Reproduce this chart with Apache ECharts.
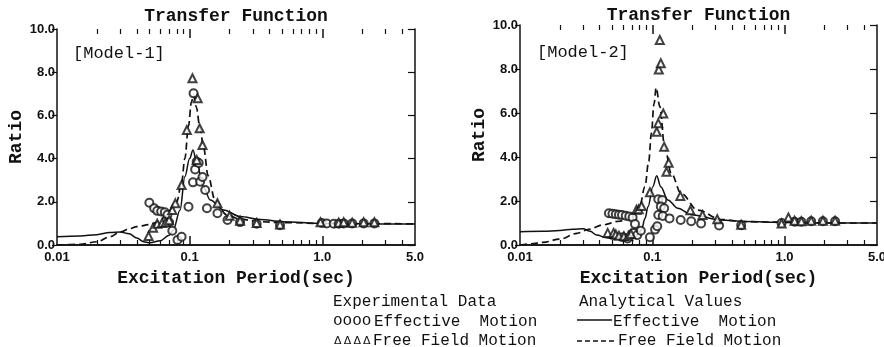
<!DOCTYPE html>
<html>
<head>
<meta charset="utf-8">
<style>
  html, body { margin: 0; padding: 0; background: #fff; }
  #chart { width: 884px; height: 347px; }
</style>
<script src="https://cdn.jsdelivr.net/npm/echarts@6/dist/echarts.min.js"></script>
</head>
<body>
<div id="chart"></div>
<script>
// Ticks and labels on the period axis
const xLabelValues = [0.01, 0.1, 1, 5]
const xLabelTexts = ['0.01', '0.1', '1.0', '5.0']
const xMinorTicks = [0.02, 0.03, 0.04, 0.05, 0.06, 0.07, 0.08, 0.09,
  0.2, 0.3, 0.4, 0.5, 0.6, 0.7, 0.8, 0.9, 2, 3, 4]
const xMajorTicks = [0.1, 1]

// Model-1: experimental data [period, ratio]
const m1EffExp = [[0.0497, 1.96], [0.054, 1.70], [0.057, 1.58], [0.061, 1.55], [0.065, 1.52],
  [0.068, 1.40], [0.070, 1.05], [0.074, 0.66], [0.081, 0.23], [0.087, 0.38], [0.098, 1.77],
  [0.106, 2.90], [0.110, 3.50], [0.113, 3.85], [0.107, 7.02], [0.117, 3.80], [0.120, 2.93],
  [0.125, 3.15], [0.131, 2.55], [0.135, 1.70], [0.162, 1.47], [0.193, 1.16], [0.24, 1.06],
  [0.32, 0.98], [0.48, 0.92], [0.99, 1.02], [1.08, 1.0], [1.22, 0.98], [1.33, 0.98],
  [1.45, 1.0], [1.68, 1.0], [2.05, 1.0], [2.47, 1.0]]
const m1FreeExp = [[0.049, 0.42], [0.053, 0.80], [0.057, 0.98], [0.062, 1.02], [0.066, 1.05],
  [0.070, 1.15], [0.074, 1.62], [0.078, 1.93], [0.087, 2.78], [0.0953, 5.32], [0.105, 7.72],
  [0.115, 6.79], [0.119, 5.40], [0.125, 4.63], [0.113, 3.94], [0.162, 1.93], [0.2, 1.35],
  [0.24, 1.12], [0.32, 1.02], [0.48, 0.95], [0.97, 1.05], [1.33, 1.03], [1.45, 1.05],
  [1.68, 1.03], [2.05, 1.05], [2.47, 1.05]]
// Model-1: analytical values
const m1EffAna = [[0.01, 0.38], [0.015, 0.42], [0.02, 0.48], [0.025, 0.58], [0.03, 0.6],
  [0.035, 0.52], [0.04, 0.32], [0.045, 0.15], [0.05, 0.1], [0.06, 0.2], [0.07, 0.45],
  [0.0753, 0.7], [0.0847, 1.62], [0.092, 3.16], [0.1, 4.0], [0.106, 4.4], [0.113, 3.8],
  [0.127, 2.7], [0.143, 2.08], [0.18, 1.62], [0.24, 1.32], [0.34, 1.18], [0.5, 1.08],
  [1, 1.0], [2, 0.98], [5, 0.97]]
const m1FreeAna = [[0.01, 0.0], [0.015, 0.03], [0.02, 0.15], [0.025, 0.38], [0.03, 0.6],
  [0.035, 0.75], [0.04, 0.85], [0.05, 0.95], [0.06, 1.1], [0.067, 1.45], [0.08, 2.0],
  [0.087, 2.9], [0.092, 4.0], [0.098, 5.5], [0.103, 6.6], [0.107, 6.95], [0.112, 6.4],
  [0.12, 5.4], [0.127, 4.55], [0.138, 3.2], [0.155, 2.1], [0.19, 1.4], [0.24, 1.2],
  [0.33, 1.08], [0.5, 1.04], [1, 1.0], [2, 0.99], [5, 0.98]]

// Model-2: experimental data
const m2EffExp = [[0.047, 1.44], [0.050, 1.42], [0.053, 1.40], [0.056, 1.38], [0.059, 1.36],
  [0.063, 1.33], [0.067, 1.30], [0.071, 1.25], [0.074, 0.95], [0.072, 0.55], [0.077, 0.45],
  [0.082, 0.65], [0.060, 0.35], [0.065, 0.30], [0.096, 0.35], [0.105, 0.70], [0.109, 0.85],
  [0.111, 2.08], [0.119, 2.05], [0.116, 1.75], [0.123, 1.67], [0.111, 1.36], [0.120, 1.32],
  [0.135, 1.21], [0.164, 1.14], [0.197, 1.08], [0.234, 0.98], [0.32, 0.89], [0.47, 0.90],
  [0.95, 1.0], [1.19, 1.06], [1.34, 1.06], [1.59, 1.08], [1.95, 1.08], [2.41, 1.08]]
const m2FreeExp = [[0.046, 0.55], [0.051, 0.55], [0.053, 0.48], [0.056, 0.42], [0.061, 0.40],
  [0.066, 0.42], [0.069, 0.50], [0.076, 1.60], [0.079, 1.62], [0.083, 1.77], [0.096, 2.40],
  [0.108, 5.15], [0.111, 5.53], [0.112, 7.98], [0.114, 9.32], [0.116, 8.26], [0.121, 5.98],
  [0.123, 4.47], [0.128, 3.33], [0.133, 3.74], [0.163, 2.23], [0.194, 1.58], [0.24, 1.36],
  [0.31, 1.17], [0.47, 0.92], [0.95, 0.98], [1.07, 1.25], [1.19, 1.10], [1.34, 1.08],
  [1.59, 1.10], [1.95, 1.10], [2.41, 1.10]]
// Model-2: analytical values
const m2EffAna = [[0.01, 0.6], [0.015, 0.62], [0.02, 0.66], [0.025, 0.72], [0.03, 0.74],
  [0.034, 0.62], [0.038, 0.45], [0.045, 0.33], [0.053, 0.26], [0.062, 0.26], [0.07, 0.3],
  [0.077, 0.45], [0.083, 0.7], [0.088, 1.2], [0.093, 1.75], [0.101, 2.65], [0.108, 3.15],
  [0.116, 2.65], [0.131, 2.05], [0.156, 1.67], [0.197, 1.38], [0.33, 1.14], [0.5, 1.07],
  [1, 1.03], [2, 1.0], [5, 1.0]]
const m2FreeAna = [[0.01, 0.0], [0.012, 0.05], [0.015, 0.12], [0.02, 0.27], [0.027, 0.53],
  [0.033, 0.71], [0.042, 0.91], [0.056, 1.08], [0.07, 1.3], [0.08, 1.7], [0.088, 2.65],
  [0.094, 3.8], [0.0985, 5.1], [0.103, 6.4], [0.107, 7.15], [0.114, 6.3], [0.124, 4.47],
  [0.139, 3.26], [0.165, 2.35], [0.22, 1.59], [0.33, 1.16], [0.5, 1.06], [1, 1.03],
  [2, 1.0], [5, 1.0]]

const INK = '#111'
const MONO = '"Liberation Mono", "DejaVu Sans Mono", monospace'
const SANS = '"Liberation Sans", Arial, sans-serif'

const fmtX = (v) => {
  const i = xLabelValues.findIndex(t => Math.abs(t - v) / t < 1e-6)
  return i >= 0 ? xLabelTexts[i] : ''
}

const panels = [
  { grid: { left: 57, top: 29, width: 358, height: 216 }, titleGap: 4, ratioGap: 31 },
  { grid: { left: 520, top: 25, width: 357, height: 220 }, titleGap: 1, ratioGap: 28 }
]
const X_PER_GRID = 6

const grids = []
const xAxes = []
const yAxes = []
panels.forEach((p, g) => {
  grids.push(Object.assign({ show: false, containLabel: false, outerBoundsMode: 'none' }, p.grid))
  const base = { type: 'log', logBase: 10, gridIndex: g, min: 0.01, max: 5, splitLine: { show: false } }
  xAxes.push(Object.assign({}, base, {
    position: 'bottom',
    axisLine: { lineStyle: { color: INK, width: 1.5 } },
    axisTick: { show: false },
    axisLabel: { customValues: xLabelValues, formatter: fmtX, color: INK, fontFamily: SANS,
      fontWeight: 'bold', fontSize: 13, margin: 6 },
    name: 'Excitation Period(sec)', nameLocation: 'middle', nameGap: 24,
    nameTextStyle: { color: INK, fontFamily: MONO, fontWeight: 'bold', fontSize: 18 }
  }))
  xAxes.push(Object.assign({}, base, {
    position: 'top',
    axisLine: { lineStyle: { color: INK, width: 1.5 } },
    axisTick: { show: false },
    axisLabel: { show: false },
    name: 'Transfer Function', nameLocation: 'middle', nameGap: p.titleGap,
    nameTextStyle: { color: INK, fontFamily: MONO, fontWeight: 'bold', fontSize: 18 }
  }))
  // tick-only axes, all anchored on the top edge; the bottom copies are shifted down
  // by the plot height and point their ticks upwards into the plot
  ;[[xMajorTicks, 9, 1.5], [xMinorTicks, 5, 1.2]].forEach(([vals, len, w]) => {
    ;[false, true].forEach(atBottom => {
      xAxes.push(Object.assign({}, base, {
        position: 'top',
        offset: atBottom ? -p.grid.height : 0,
        axisLine: { show: false },
        axisTick: { inside: !atBottom, length: len, customValues: vals, lineStyle: { color: INK, width: w } },
        axisLabel: { show: false }
      }))
    })
  })
  yAxes.push({
    type: 'value', gridIndex: g, min: 0, max: 10, interval: 2, position: 'left',
    splitLine: { show: false },
    axisLine: { show: true, lineStyle: { color: INK, width: 1.5 } },
    axisTick: { show: true, inside: false, length: 5, lineStyle: { color: INK, width: 1.2 } },
    axisLabel: { formatter: v => v.toFixed(1), color: INK, fontFamily: SANS, fontWeight: 'bold',
      fontSize: 13, margin: 2 },
    name: 'Ratio', nameLocation: 'middle', nameGap: p.ratioGap, nameRotate: 90,
    nameTextStyle: { color: INK, fontFamily: MONO, fontWeight: 'bold', fontSize: 18 }
  })
  yAxes.push({
    type: 'value', gridIndex: g, min: 0, max: 10, interval: 2, position: 'right',
    splitLine: { show: false },
    axisLine: { show: true, lineStyle: { color: INK, width: 1.5 } },
    axisTick: { show: true, inside: true, length: 7, lineStyle: { color: INK, width: 1.2 } },
    axisLabel: { show: false }
  })
})

const makeSeries = (g, effExp, freeExp, effAna, freeAna) => {
  const xi = g * X_PER_GRID
  const yi = g * 2
  return [
    { name: 'Effective Motion (analytical)', type: 'line', xAxisIndex: xi, yAxisIndex: yi,
      data: effAna, smooth: 0.35, smoothMonotone: 'x', symbol: 'none',
      lineStyle: { color: INK, width: 1.5 }, z: 2 },
    { name: 'Free Field Motion (analytical)', type: 'line', xAxisIndex: xi, yAxisIndex: yi,
      data: freeAna, smooth: 0.35, smoothMonotone: 'x', symbol: 'none',
      lineStyle: { color: INK, width: 1.7, type: [7, 4] }, z: 2 },
    { name: 'Effective Motion (experimental)', type: 'scatter', xAxisIndex: xi, yAxisIndex: yi,
      data: effExp, symbol: 'emptyCircle', symbolSize: 8,
      itemStyle: { color: INK, borderColor: INK, borderWidth: 1.6 }, z: 3 },
    { name: 'Free Field Motion (experimental)', type: 'scatter', xAxisIndex: xi, yAxisIndex: yi,
      data: freeExp, symbol: 'emptyTriangle', symbolSize: 8,
      itemStyle: { color: INK, borderColor: INK, borderWidth: 1.6 }, z: 3 }
  ]
}

// legend block drawn as text, the way the figure has it
const legendFont = { fontFamily: MONO, fontSize: 16, fill: INK }
const txt = (text, x, y, extra) => ({
  type: 'text', x, y, silent: true,
  style: Object.assign({ text, verticalAlign: 'middle' }, legendFont, extra || {})
})
const graphics = [
  txt('[Model-1]', 73, 53, { fontSize: 17 }),
  txt('[Model-2]', 537, 52, { fontSize: 17 }),
  txt('Experimental Data', 333, 302),
  txt('Analytical Values', 579, 302),
  txt('oooo', 333, 321),
  txt('Effective  Motion', 374, 322),
  txt('Free Field Motion', 373, 341),
  txt('Effective  Motion', 613, 322),
  txt('Free Field Motion', 618, 341),
  { type: 'line', silent: true, shape: { x1: 577, y1: 320, x2: 612, y2: 320 },
    style: { stroke: INK, lineWidth: 1.3 } },
  { type: 'line', silent: true, shape: { x1: 577, y1: 341, x2: 615, y2: 341 },
    style: { stroke: INK, lineWidth: 1.3, lineDash: [5, 3] } }
]
for (let i = 0; i < 4; i++) {
  graphics.push(txt('Δ', 334 + i * 9.7, 341, { fontSize: 11, fontFamily: '"DejaVu Sans", sans-serif' }))
}

const chart = echarts.init(document.getElementById('chart'), null, { renderer: 'canvas' })
chart.setOption({
  backgroundColor: '#fff',
  animation: false,
  grid: grids,
  xAxis: xAxes,
  yAxis: yAxes,
  series: [].concat(
    makeSeries(0, m1EffExp, m1FreeExp, m1EffAna, m1FreeAna),
    makeSeries(1, m2EffExp, m2FreeExp, m2EffAna, m2FreeAna)
  ),
  graphic: graphics
})
</script>
</body>
</html>
